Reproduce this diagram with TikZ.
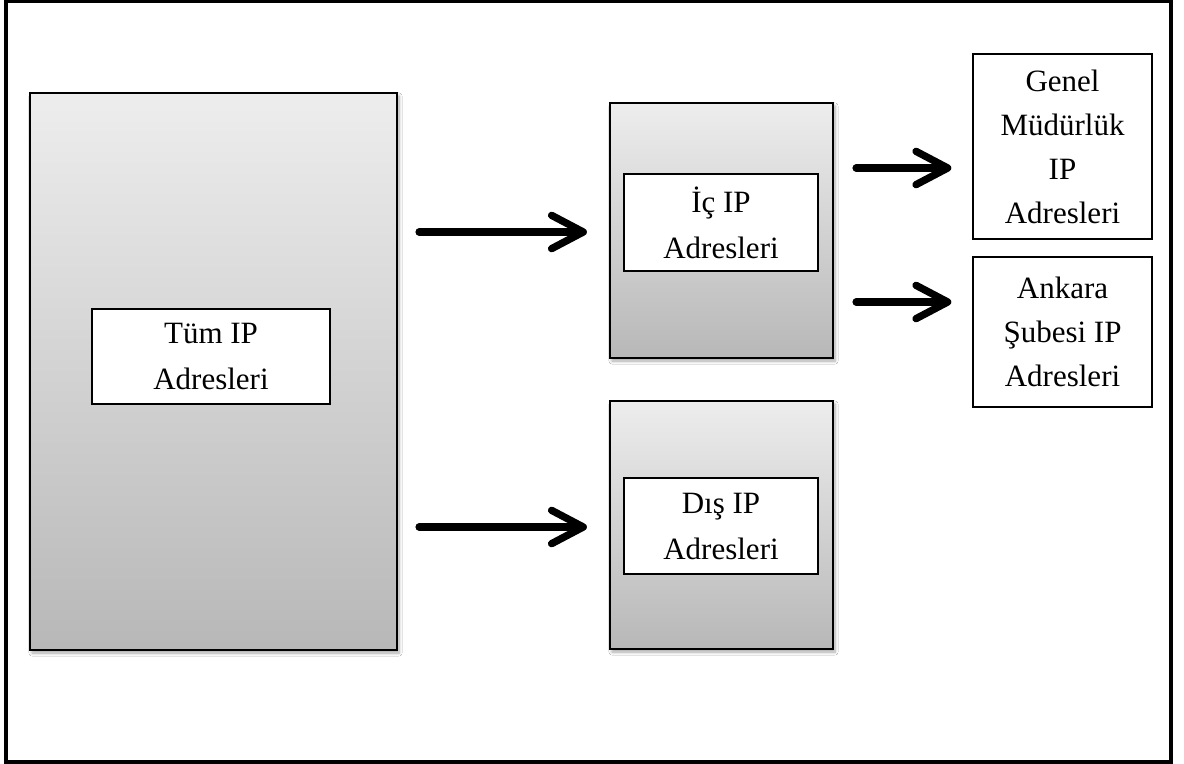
\documentclass[tikz,border=0pt]{standalone}
\usepackage{fontspec}
\setmainfont{Liberation Serif}
\usetikzlibrary{fit,arrows.meta,shadows.blur}

\tikzset{
  panel/.style={draw=black, line width=1.3pt, inner sep=0pt,
    top color=black!7, bottom color=black!28,
    blur shadow={shadow xshift=1.2pt, shadow yshift=-1.8pt, shadow blur steps=6, shadow opacity=35}},
  label box/.style={draw=black, line width=0.7pt, fill=white, inner sep=0pt},
  leaf box/.style={draw=black, line width=0.8pt, fill=white, inner sep=0pt},
  label text/.style={align=center, inner sep=0pt, font=\fontsize{18.6}{27.6}\selectfont},
  leaf text/.style={align=center, inner sep=0pt, font=\fontsize{18.6}{26.4}\selectfont},
  flow arrow/.style={line width=4.4pt, line cap=round, line join=round,
    -{Straight Barb[length=19pt, width=20pt, line cap=round, line join=round]},
    preaction={draw=black!35, opacity=0.5,
      transform canvas={xshift=0.8pt, yshift=-1.6pt}}},
}

\begin{document}
\begin{tikzpicture}[x=0.6pt, y=-0.6pt]
  \useasboundingbox (0,0) rectangle (1184,764);
  \fill[white] (0,0) rectangle (1184,764);
  % outer frame
  \draw[line width=2pt] (6,1.5) rectangle (1171,762);

  % grey panels
  \node[panel, fit={(30,93)(397,650)}] (all) {};
  \node[panel, fit={(610,103)(833,358)}] (ic) {};
  \node[panel, fit={(610,401)(833,649)}] (dis) {};

  % white label boxes inside the panels
  \node[label box, fit={(92,309)(330,404)}] (tum) {};
  \node[label box, fit={(624,174)(818,271)}] (iclbl) {};
  \node[label box, fit={(624,478)(818,574)}] (dislbl) {};
  \node[label text] (tumtxt) at (tum.center) {Tüm IP\\Adresleri};
  \node[label text] (ictxt) at (iclbl.center) {İç IP\\Adresleri};
  \node[label text] (distxt) at (dislbl.center) {Dış IP\\Adresleri};

  % leaf boxes
  \node[leaf box, fit={(973,54)(1152,239)}] (genel) {};
  \node[leaf box, fit={(973,257)(1152,407)}] (ankara) {};
  \node[leaf text] (geneltxt) at (genel.center) {Genel\\Müdürlük\\IP\\Adresleri};
  \node[leaf text] (ankaratxt) at (ankara.center) {Ankara\\Şubesi IP\\Adresleri};

  % connectors
  \draw[flow arrow, shorten <=12.6pt, shorten >=13.2pt] (all.east |- 0,232) -- (ic.west |- 0,232);
  \draw[flow arrow, shorten <=12.6pt, shorten >=13.2pt] (all.east |- 0,527) -- (dis.west |- 0,527);
  \draw[flow arrow, shorten <=13.2pt, shorten >=12.6pt] (ic.east |- 0,168) -- (genel.west |- 0,168);
  \draw[flow arrow, shorten <=13.2pt, shorten >=12.6pt] (ic.east |- 0,302) -- (ankara.west |- 0,302);
\end{tikzpicture}
\end{document}
